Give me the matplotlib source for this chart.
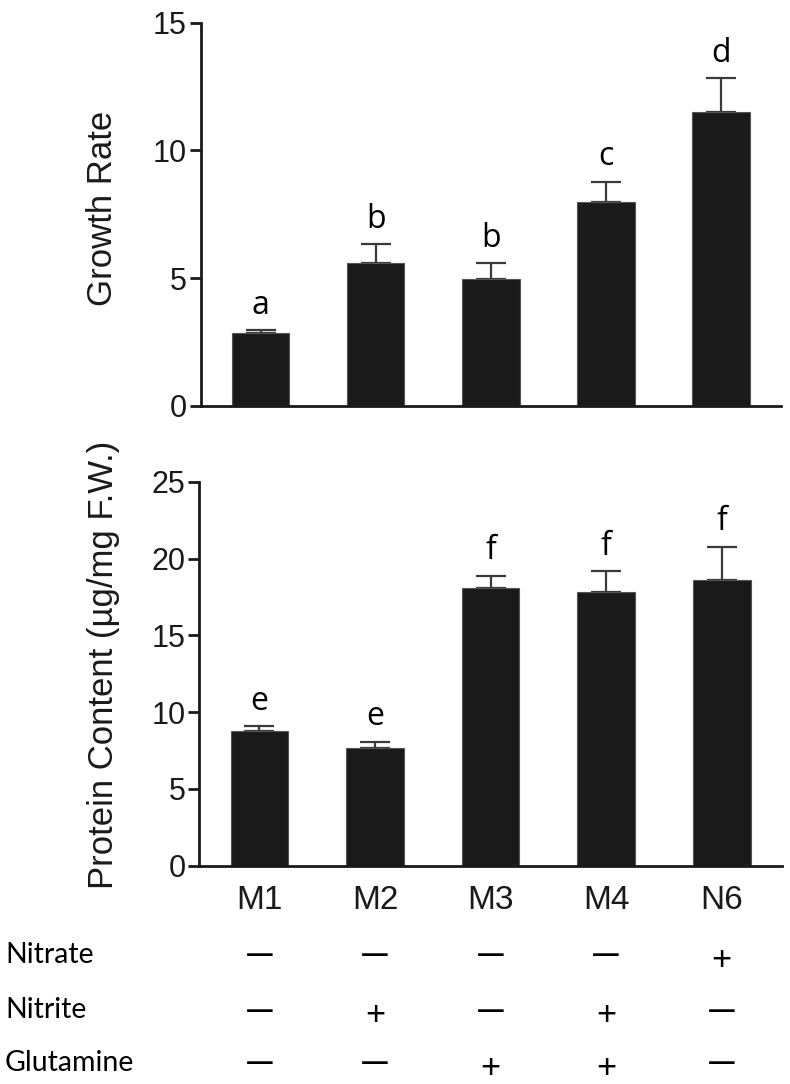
import numpy as np
import matplotlib
matplotlib.use("Agg")
import matplotlib.pyplot as plt

# data
groups = ["M1", "M2", "M3", "M4", "N6"]
growth = [2.85, 5.58, 4.95, 7.98, 11.49]
growth_err = [0.10, 0.74, 0.63, 0.79, 1.34]
growth_sig = ["a", "b", "b", "c", "d"]
protein = [8.79, 7.64, 18.10, 17.82, 18.58]
protein_err = [0.30, 0.43, 0.78, 1.35, 2.19]
protein_sig = ["e", "e", "f", "f", "f"]
treatments = ["Nitrate", "Nitrite", "Glutamine"]
nitrate = ["—", "—", "—", "—", "+"]
nitrite = ["—", "+", "—", "+", "—"]
glutamine = ["—", "—", "+", "+", "—"]

plt.rcParams['font.family'] = ['Liberation Sans', 'DejaVu Sans']
letter_font = ['Open Sans', 'DejaVu Sans']
table_font = ['Lato', 'DejaVu Sans']

fig = plt.figure(figsize=(7.9, 10.84), dpi=100)
ax1 = fig.add_axes([0.254, 0.6257, 0.7346, 0.3534])
ax2 = fig.add_axes([0.2523, 0.2014, 0.7372, 0.3542])

x = np.arange(len(groups))

def draw(ax, vals, errs, sig, ymax, step):
    ax.bar(x, vals, width=0.5, color='#1a1a1a', edgecolor='#555555', linewidth=0.8, zorder=2)
    ax.errorbar(x, vals, yerr=[np.zeros(len(vals)), errs], fmt='none', ecolor='#3a3a3a',
                elinewidth=1.6, capsize=11, capthick=1.6, zorder=1)
    for xi, v, e, s in zip(x, vals, errs, sig):
        ax.annotate(s, (xi, v + e), xytext=(0, 6), textcoords='offset points',
                    ha='center', va='bottom', fontsize=23, family=letter_font)
    ax.set_xlim(-0.52, 4.52)
    ax.set_ylim(0, ymax)
    ax.set_yticks(np.arange(0, ymax + 0.1, step))
    for side in ['top', 'right']:
        ax.spines[side].set_visible(False)
    for side in ['left', 'bottom']:
        ax.spines[side].set_linewidth(2)
        ax.spines[side].set_color('#1a1a1a')
    ax.tick_params(axis='y', length=8, width=2, labelsize=22, colors='#1a1a1a', pad=2)
    ax.tick_params(axis='x', length=0, labelsize=24, colors='#1a1a1a', pad=14)

draw(ax1, growth, growth_err, growth_sig, 15, 5)
ax1.set_xticks([])
draw(ax2, protein, protein_err, protein_sig, 25, 5)
ax2.set_xticks(x)
ax2.set_xticklabels(groups)

fig.text(102 / 790, 1 - 208 / 1084, "Growth Rate", rotation=90, ha='center', va='center',
         fontsize=25, color='#1a1a1a')
fig.text(104 / 790, 1 - 665 / 1084, "Protein Content (µg/mg F.W.)", rotation=90,
         ha='center', va='center', fontsize=25, color='#1a1a1a')

# treatment table beneath the lower panel
rows = [nitrate, nitrite, glutamine]
row_y = [955, 1010, 1063]
for name, signs, ypx in zip(treatments, rows, row_y):
    fig.text(5 / 790, 1 - ypx / 1084, name, ha='left', va='center', fontsize=20.5,
             family=table_font)
    for xi, s in zip(x, signs):
        xf = ax2.transData.transform((xi, 0))[0] / fig.bbox.width
        if s == "+":
            fig.text(xf, 1 - (ypx + 5) / 1084, s, ha='center', va='center',
                     fontsize=25, family=table_font)
        else:
            fig.text(xf, 1 - ypx / 1084, s, ha='center', va='center',
                     fontsize=20, family=letter_font, fontweight='semibold')

fig.savefig("out.png", dpi=100)
